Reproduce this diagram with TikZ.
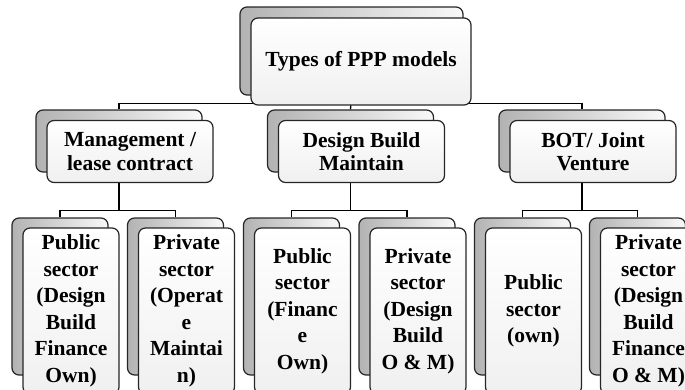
\documentclass[tikz,border=0pt]{standalone}
\usepackage{fontspec}
\setmainfont{Liberation Serif}
\usetikzlibrary{calc}

\tikzset{
  backbox/.style={draw=black!85, line width=1.2pt, rounded corners=7pt,
    left color=gray!60, right color=gray!5, inner sep=0pt},
  frontbox/.style={draw=black!85, line width=1.2pt, rounded corners=7pt,
    top color=white, bottom color=gray!12, inner sep=0pt, align=center,
    font=\bfseries\fontsize{21.5}{23.5}\selectfont},
  leafbox/.style={frontbox, font=\bfseries\fontsize{21.5}{26.5}\selectfont},
  link/.style={draw=black, line width=1.3pt},
}

\begin{document}
\begin{tikzpicture}[x=1pt,y=-1pt]
  \useasboundingbox (0,0) rectangle (685,389);
  \clip (0,0) rectangle (685,389);

  % 寸法
  \def\mw{166} % 中段の幅
  \def\mh{62}
  \def\lw{96}  % 下段の幅
  \def\dx{11}  % 前後のずれ

  % 奥の箱 (接続用)
  \node[backbox, minimum width=223, minimum height=88] (topB) at (351.5,51) {};
  \node[backbox, minimum width=\mw, minimum height=\mh] (mgmtB) at (119,141) {};
  \node[backbox, minimum width=\mw, minimum height=\mh] (dbmB) at (350.5,141) {};
  \node[backbox, minimum width=\mw, minimum height=\mh] (botB) at (582,141) {};
  \foreach \n/\x in {pubA/60, priA/175.5, pubB/291.5, priB/407, pubC/522.5, priC/637.5} {
    \node[backbox, minimum width=\lw, minimum height=157] (\n B) at (\x,296.5) {};
  }

  % 線
  \draw[link] (topB.south) -- ++(0,8) coordinate (tj) -| (mgmtB.north);
  \draw[link] (tj) -| (botB.north);
  \draw[link] (topB.south) -- (dbmB.north);
  \foreach \m/\a/\b in {mgmt/pubA/priA, dbm/pubB/priB, bot/pubC/priC} {
    \draw[link] (\m B.south) -- ++(0,38) coordinate (\m j) -| (\a B.north);
    \draw[link] (\m j) -| (\b B.north);
  }

  % 手前の箱
  \node[frontbox, minimum width=220, minimum height=87] (topF) at (361,61.5)
    {Types of PPP models};
  \node[frontbox, minimum width=\mw, minimum height=\mh] (mgmtF) at (119+\dx,151.5)
    {Management /\\lease contract};
  \node[frontbox, minimum width=\mw, minimum height=\mh] (dbmF) at (350.5+\dx,151.5)
    {Design Build\\Maintain};
  \node[frontbox, minimum width=\mw, minimum height=\mh] (botF) at (582+\dx,151.5)
    {BOT/ Joint\\Venture};

  % 下段
  \node[leafbox, minimum width=\lw, minimum height=166] (pubAF) at (60+\dx,311)
    {Public\\sector\\(Design\\Build\\Finance\\Own)};
  \node[leafbox, minimum width=\lw, minimum height=166] (priAF) at (175.5+\dx,311)
    {Private\\sector\\(Operat\\e\\Maintai\\n)};
  \node[leafbox, minimum width=\lw, minimum height=166] (pubBF) at (291.5+\dx,311)
    {Public\\sector\\(Financ\\e\\Own)};
  \node[leafbox, minimum width=\lw, minimum height=166] (priBF) at (407+\dx,311)
    {Private\\sector\\(Design\\Build\\O \& M)};
  \node[leafbox, minimum width=\lw, minimum height=166] (pubCF) at (522.5+\dx,311)
    {Public\\sector\\(own)};
  \node[leafbox, minimum width=\lw, minimum height=166] (priCF) at (637.5+\dx,311)
    {Private\\sector\\(Design\\Build\\Finance\\O \& M)};

\end{tikzpicture}
\end{document}
